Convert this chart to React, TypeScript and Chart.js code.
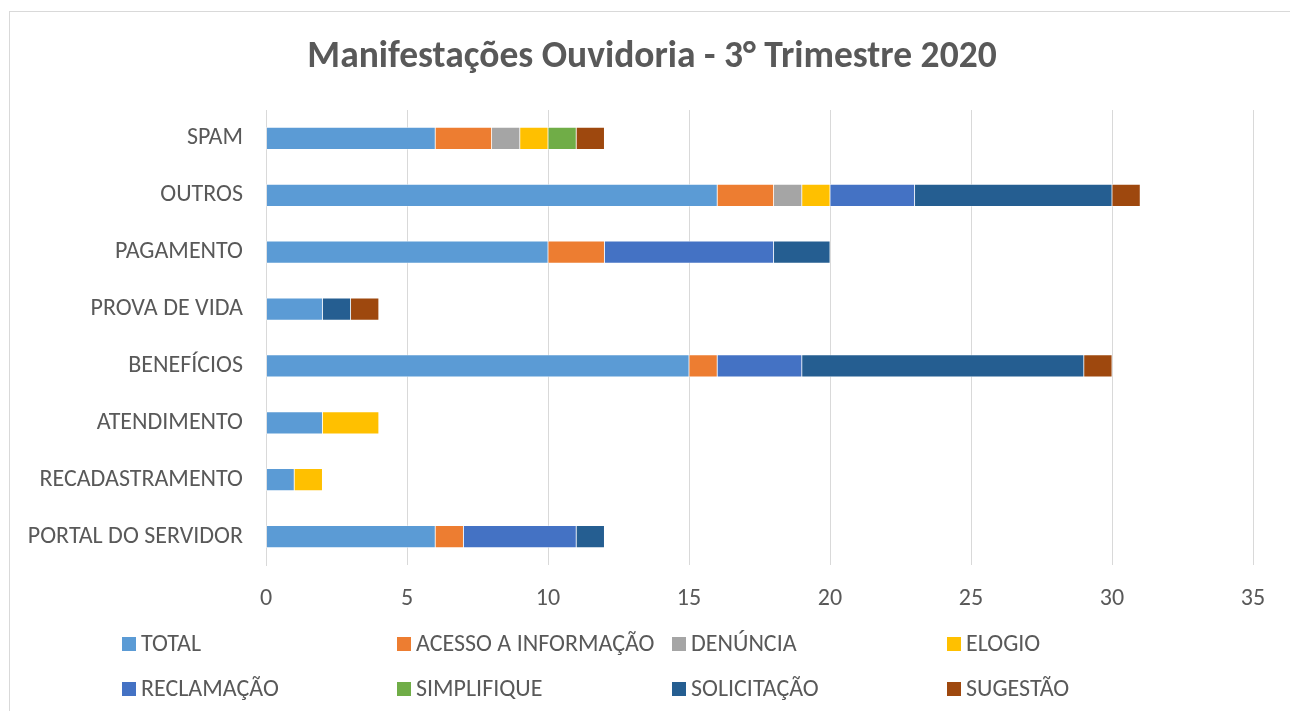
import React, { useEffect, useRef } from "react";
import { Chart, registerables } from "chart.js";

Chart.register(...registerables);

const FONT = "Carlito, Lato, 'Open Sans', sans-serif";
const TEXT = "#595959";
const GRID = "#d9d9d9";

const categories = [
  "SPAM",
  "OUTROS",
  "PAGAMENTO",
  "PROVA DE VIDA",
  "BENEFÍCIOS",
  "ATENDIMENTO",
  "RECADASTRAMENTO",
  "PORTAL DO SERVIDOR",
];

const seriesNames = [
  "TOTAL",
  "ACESSO A INFORMAÇÃO",
  "DENÚNCIA",
  "ELOGIO",
  "RECLAMAÇÃO",
  "SIMPLIFIQUE",
  "SOLICITAÇÃO",
  "SUGESTÃO",
];

const seriesColors = [
  "#5B9BD5",
  "#ED7D31",
  "#A5A5A5",
  "#FFC000",
  "#4472C4",
  "#70AD47",
  "#255E91",
  "#9E480E",
];

const total = [6, 16, 10, 2, 15, 2, 1, 6];
const acessoInformacao = [2, 2, 2, 0, 1, 0, 0, 1];
const denuncia = [1, 1, 0, 0, 0, 0, 0, 0];
const elogio = [1, 1, 0, 0, 0, 2, 1, 0];
const reclamacao = [0, 3, 6, 0, 3, 0, 0, 4];
const simplifique = [1, 0, 0, 0, 0, 0, 0, 0];
const solicitacao = [0, 7, 2, 1, 10, 0, 0, 1];
const sugestao = [1, 1, 0, 1, 1, 0, 0, 0];

const xTicks = [0, 5, 10, 15, 20, 25, 30, 35];

const seriesValues = [
  total,
  acessoInformacao,
  denuncia,
  elogio,
  reclamacao,
  simplifique,
  solicitacao,
  sugestao,
];

const LABEL_SIZE = 24;

const gridLegend = {
  id: "gridLegend",
  afterDraw(chart: any) {
    const ctx = chart.ctx;
    ctx.save();
    ctx.font = `${LABEL_SIZE}px ${FONT}`;
    ctx.textBaseline = "middle";
    ctx.textAlign = "left";
    chart.data.datasets.forEach((ds: any, i: number) => {
      const col = i % 4;
      const row = Math.floor(i / 4);
      const x = 112 + col * 275;
      const y = 632 + row * 45;
      ctx.fillStyle = ds.backgroundColor;
      ctx.fillRect(x, y - 7, 14, 14);
      ctx.fillStyle = TEXT;
      ctx.fillText(ds.label, x + 19, y + 1);
    });
    ctx.restore();
  },
};

export default function App() {
  const ref = useRef<HTMLCanvasElement>(null);

  useEffect(() => {
    if (!ref.current) return;
    const chart = new Chart(ref.current, {
      type: "bar",
      data: {
        labels: categories,
        datasets: seriesNames.map((name, i) => ({
          label: name,
          data: seriesValues[i].map((v) => (v === 0 ? null : v)),
          backgroundColor: seriesColors[i],
          borderColor: "rgba(255,255,255,0.55)",
          borderWidth: 0.75,
          borderSkipped: false,
          barThickness: 22,
        })),
      },
      options: {
        indexAxis: "y",
        responsive: false,
        animation: false,
        layout: { padding: { left: 0, right: 0, top: 0, bottom: 99 } },
        plugins: {
          legend: { display: false },
          tooltip: { enabled: false },
          title: {
            display: true,
            text: "Manifestações Ouvidoria - 3° Trimestre 2020",
            color: TEXT,
            font: { family: FONT, size: 37.5, weight: "bold", lineHeight: 1.2 },
            padding: { top: 23, bottom: 30 },
          },
        },
        scales: {
          x: {
            stacked: true,
            min: 0,
            max: 35,
            afterBuildTicks: (scale: any) => {
              scale.ticks = xTicks.map((v) => ({ value: v }));
            },
            afterFit: (scale: any) => {
              scale.height = 50;
              scale.paddingRight = 41;
            },
            grid: { color: GRID, lineWidth: 1, drawTicks: false },
            border: { display: false },
            ticks: {
              color: TEXT,
              font: { family: FONT, size: LABEL_SIZE },
              padding: 20,
              maxRotation: 0,
            },
          },
          y: {
            stacked: true,
            afterFit: (scale: any) => {
              scale.width = 256;
            },
            grid: { display: false, drawTicks: false },
            border: { display: true, color: GRID, width: 1 },
            ticks: {
              color: TEXT,
              font: { family: FONT, size: LABEL_SIZE },
              padding: 23,
            },
          },
        },
      },
      plugins: [gridLegend],
    } as any);
    return () => chart.destroy();
  }, []);

  return (
    <div
      style={{
        position: "relative",
        top: 3,
        left: 1,
        width: 1284,
        height: 702,
        borderTop: `1px solid ${GRID}`,
        borderLeft: `1px solid ${GRID}`,
        borderRight: `1px solid ${GRID}`,
        background: "#fff",
      }}
    >
      <canvas ref={ref} width={1284} height={702} style={{ display: "block" }} />
    </div>
  );
}
